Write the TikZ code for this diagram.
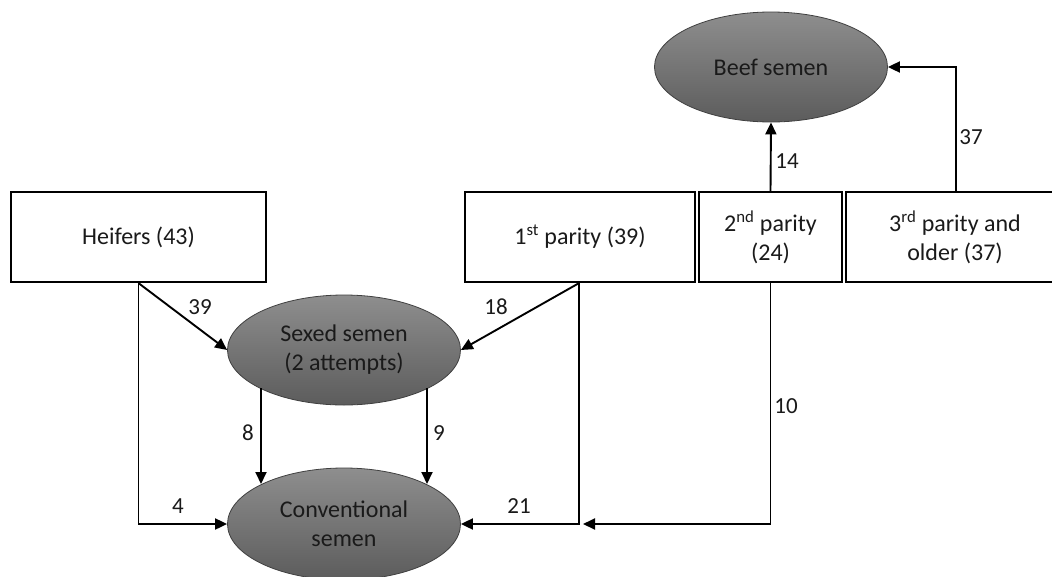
\documentclass[tikz,border=0pt]{standalone}
\usepackage{fontspec}
\setmainfont{Carlito}
\usetikzlibrary{arrows.meta,shapes.geometric,calc}
\definecolor{elltop}{RGB}{142,142,142}
\definecolor{ellbot}{RGB}{92,92,92}
\definecolor{txt}{RGB}{26,26,26}
\begin{document}
\begin{tikzpicture}[x=1pt,y=-1pt,
  box/.style={draw,line width=2.2pt,inner sep=0pt,align=center,text=txt,
    font=\fontsize{24}{29}\selectfont},
  ell/.style={ellipse,draw=black!75,line width=0.8pt,inner sep=0pt,align=center,text=txt,
    top color=elltop,bottom color=ellbot,minimum width=233pt,
    font=\fontsize{24}{29}\selectfont},
  arr/.style={line width=1.9pt,-{Triangle[length=12pt,width=11pt]}},
  lbl/.style={font=\fontsize{23}{27}\selectfont,inner sep=0pt,text=txt}]
\useasboundingbox (0,0) rectangle (1052,576);
\clip (0,0) rectangle (1052,576);
\fill[white] (0,0) rectangle (1052,576);
% boxes
\node[box,minimum width=255pt,minimum height=90pt] (heif) at (138.5,237) {Heifers (43)};
\node[box,minimum width=230pt,minimum height=90pt] (p1) at (580,237) {1\textsuperscript{st} parity (39)};
\node[box,minimum width=143pt,minimum height=90pt] (p2) at (770.5,237) {2\textsuperscript{nd} parity\\(24)};
\node[box,minimum width=218pt,minimum height=90pt] (p3) at (955,237) {3\textsuperscript{rd} parity and\\older (37)};
% ellipses
\node[ell,minimum height=110pt] (beef) at (771,67) {Beef semen};
\node[ell,minimum height=110pt] (sex) at (344,350) {Sexed semen\\(2 attempts)};
\node[ell,minimum height=112pt] (conv) at (344,524) {Conventional\\semen};
\coordinate (tenend) at (583,524);
\coordinate (p3top) at (956,192);
% connectors
\draw[arr] (heif.south) -- (sex.west);
\draw[arr] ([xshift=-1pt]p1.south) -- (sex.east);
\draw[arr] (heif.south) |- (conv.west);
\draw[arr] ([xshift=-1pt]p1.south) |- (conv.east);
\draw[arr] ($(sex.center)+(-83,38)$) -- ($(conv.center)+(-83,-40)$);
\draw[arr] ($(sex.center)+(83,38)$) -- ($(conv.center)+(83,-40)$);
\draw[arr] (p2.south) |- (tenend);
\draw[arr] (p2.north) -- (beef.south);
\draw[arr] (p3top) |- (beef.east);
% labels
\node[lbl] (l39) at (200,307) {39};
\node[lbl] (l18) at (496,307) {18};
\node[lbl] (l4) at (178,506) {4};
\node[lbl] (l21) at (519,506) {21};
\node[lbl] (l8) at (248,433) {8};
\node[lbl] (l9) at (439,433) {9};
\node[lbl] (l10) at (786,406) {10};
\node[lbl] (l14) at (787,161) {14};
\node[lbl] (l37) at (971,137) {37};
\end{tikzpicture}
\end{document}
